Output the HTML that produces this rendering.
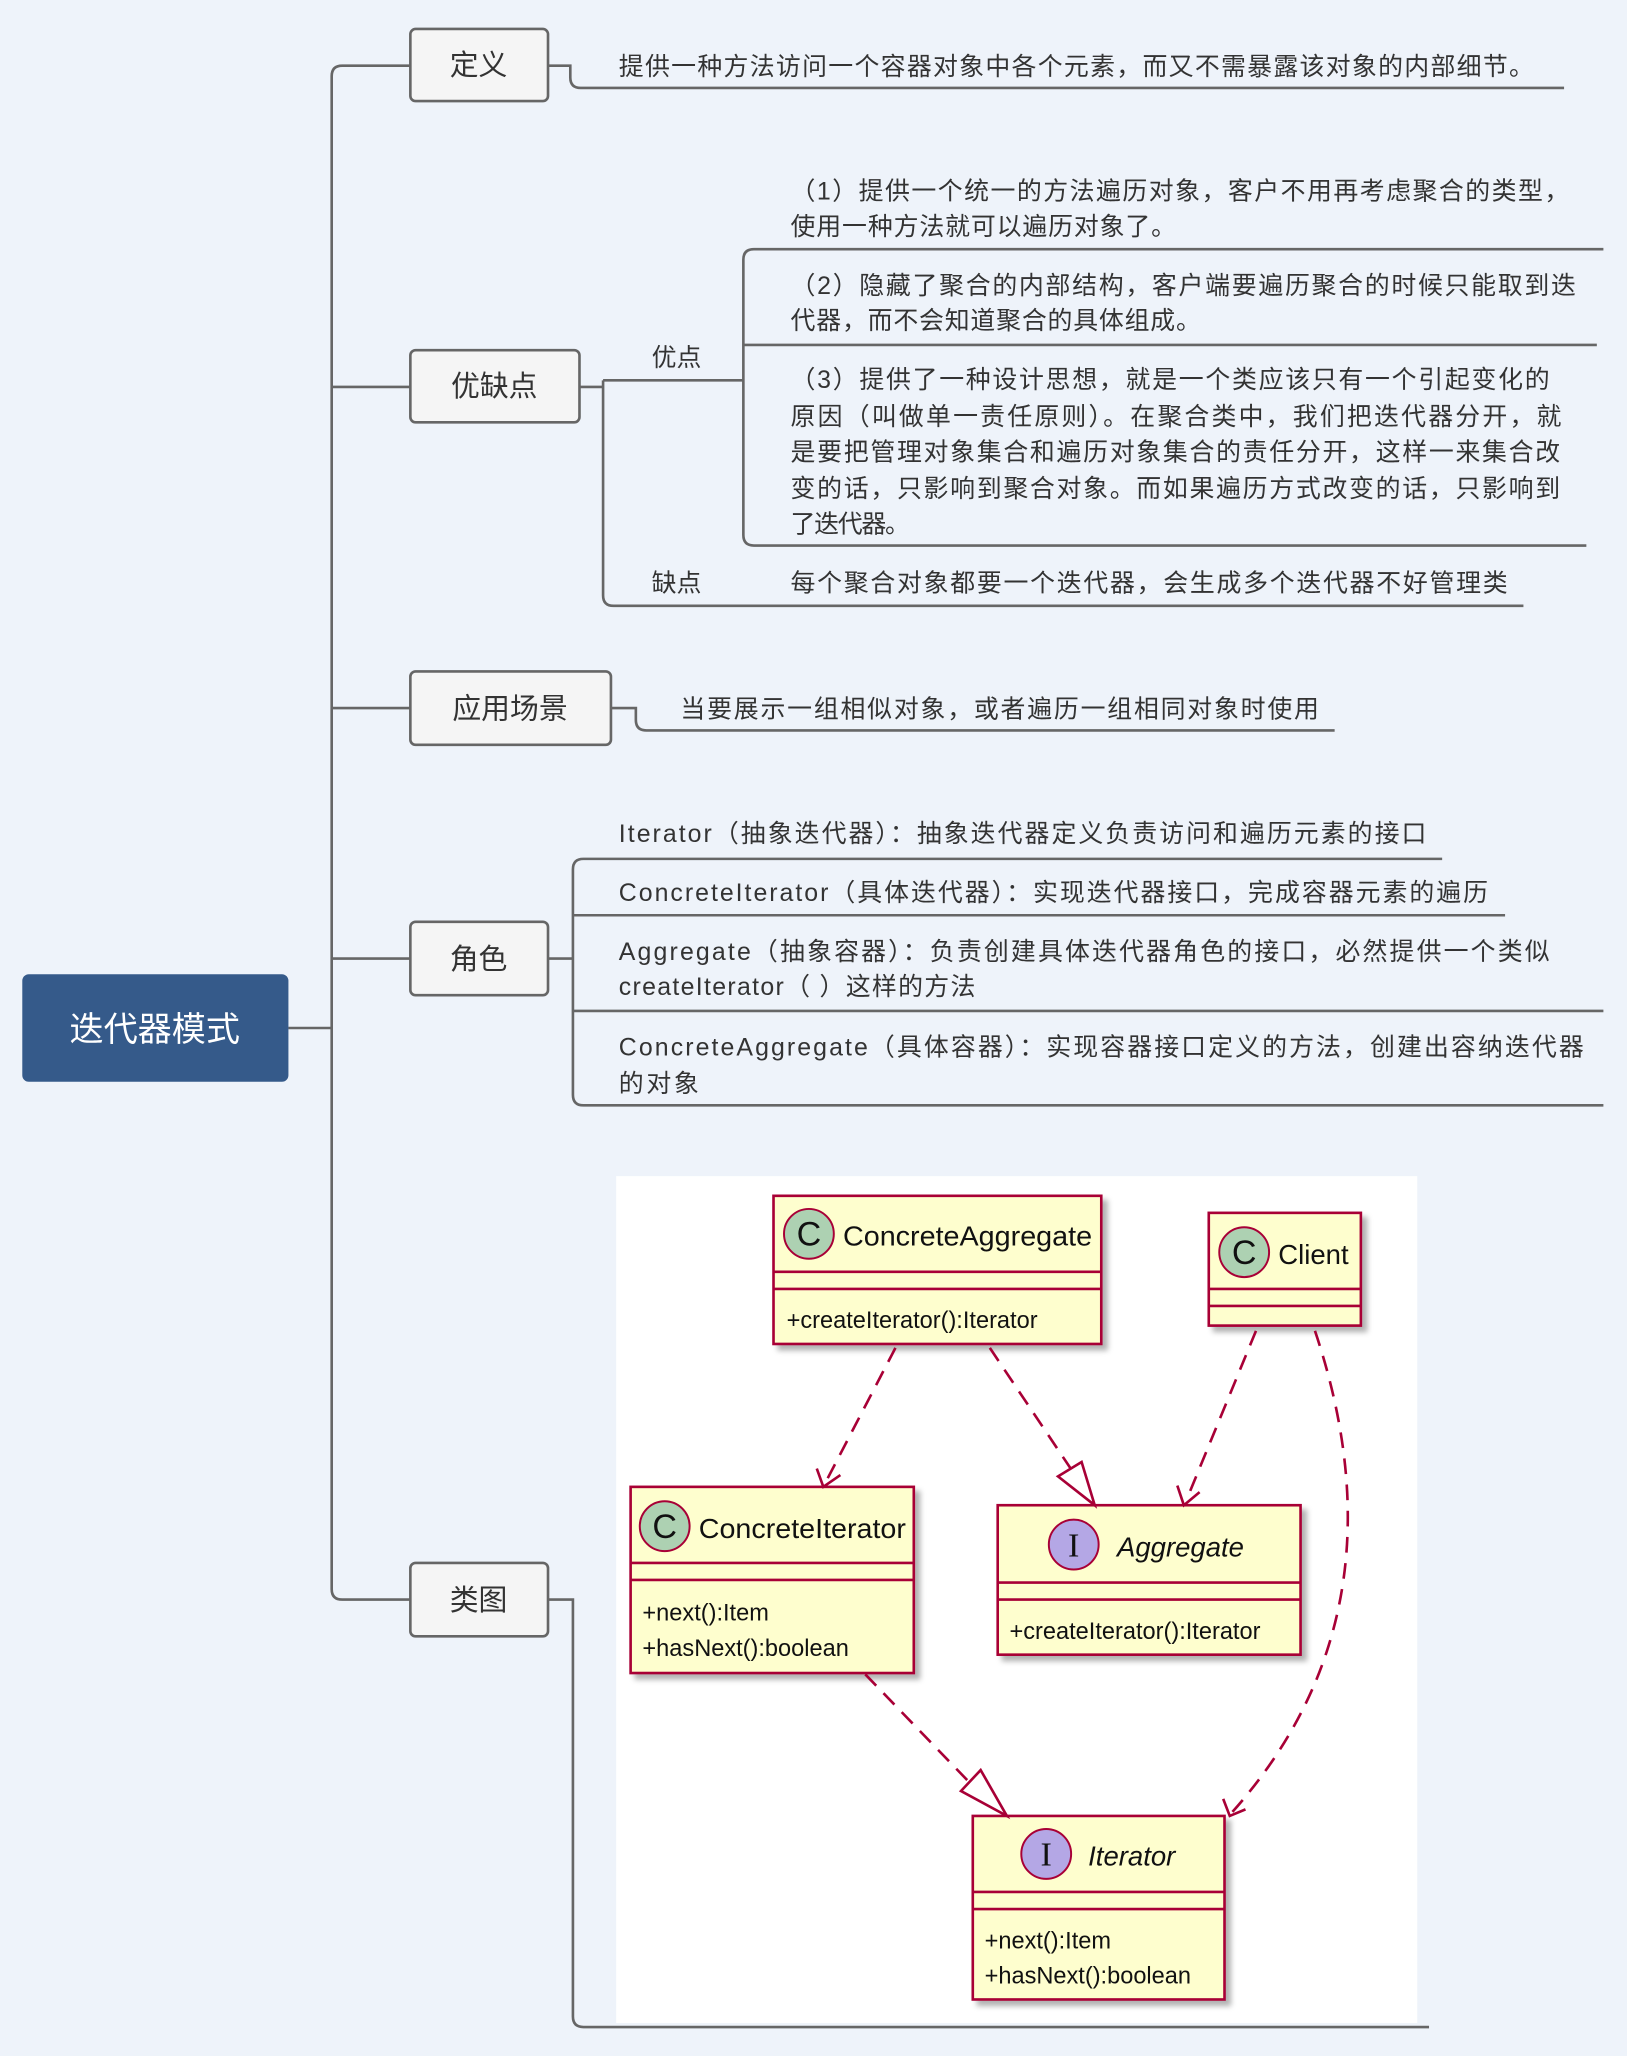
<!DOCTYPE html>
<html><head><meta charset="utf-8"><style>
html,body{margin:0;padding:0;background:#eef3fa;}
svg{display:block;}
text{font-family:"Liberation Sans","Noto Sans CJK SC",sans-serif;fill:#333;}
.t{font-size:19px;}
.b{font-size:22px;}
.u{font-family:"Liberation Sans",sans-serif;fill:#111;}
</style></head><body>
<svg width="1627" height="2056" viewBox="0 0 1241 1568" xmlns="http://www.w3.org/2000/svg">
<defs>
<filter id="sh" x="-10%" y="-10%" width="130%" height="130%"><feDropShadow dx="4" dy="4" stdDeviation="2" flood-color="#000" flood-opacity="0.3"/></filter>
</defs>
<rect width="1241" height="1568" fill="#eef3fa"/>
<g fill="none" stroke="#666" stroke-width="2">
<path d="M220 784 H253"/>
<path d="M313 50 H261 Q253 50 253 58 V1212 Q253 1220 261 1220 H313"/>
<path d="M253 295 H313 M253 540 H313 M253 731 H313"/>
<path d="M418 50 H435 V59 Q435 67 443 67 H1193"/>
<path d="M442 295 H460"/>
<path d="M460 290 H567"/>
<path d="M460 290 V454 Q460 462 468 462 H1162"/>
<path d="M1223 190 H575 Q567 190 567 198 V408 Q567 416 575 416 H1210"/>
<path d="M567 263 H1218"/>
<path d="M466 540 H485 V549 Q485 557 493 557 H1018"/>
<path d="M418 731 H437"/>
<path d="M1100 655 H445 Q437 655 437 663 V835 Q437 843 445 843 H1223"/>
<path d="M437 698 H1148 M437 771 H1223"/>
<path d="M418 1220 H437 V1538 Q437 1546 445 1546 H1090"/>
</g>
<rect x="17" y="743" width="203" height="82" rx="5" fill="#355a8a"/>
<text x="118" y="794" text-anchor="middle" style="font-size:26px;fill:#fff">迭代器模式</text>
<g fill="#f5f5f5" stroke="#666" stroke-width="2">
<rect x="313" y="22" width="105" height="55" rx="4"/>
<rect x="313" y="267" width="129" height="55" rx="4"/>
<rect x="313" y="512" width="153" height="56" rx="4"/>
<rect x="313" y="703" width="105" height="56" rx="4"/>
<rect x="313" y="1192" width="105" height="56" rx="4"/>
</g>
<text class="b" x="365" y="57" text-anchor="middle">定义</text>
<text class="b" x="377" y="302" text-anchor="middle">优缺点</text>
<text class="b" x="389" y="548" text-anchor="middle">应用场景</text>
<text class="b" x="365" y="739" text-anchor="middle">角色</text>
<text class="b" x="365" y="1228" text-anchor="middle">类图</text>
<text class="t" x="472" y="57" textLength="698" lengthAdjust="spacing">提供一种方法访问一个容器对象中各个元素，而又不需暴露该对象的内部细节。</text>
<text class="t" x="497" y="279">优点</text>
<text class="t" x="603" y="152" textLength="594" lengthAdjust="spacing">（1）提供一个统一的方法遍历对象，客户不用再考虑聚合的类型，</text>
<text class="t" x="603" y="179" textLength="294" lengthAdjust="spacing">使用一种方法就可以遍历对象了。</text>
<text class="t" x="603" y="224" textLength="599" lengthAdjust="spacing">（2）隐藏了聚合的内部结构，客户端要遍历聚合的时候只能取到迭</text>
<text class="t" x="603" y="251" textLength="313" lengthAdjust="spacing">代器，而不会知道聚合的具体组成。</text>
<text class="t" x="603" y="296" textLength="579" lengthAdjust="spacing">（3）提供了一种设计思想，就是一个类应该只有一个引起变化的</text>
<text class="t" x="603" y="324" textLength="588" lengthAdjust="spacing">原因（叫做单一责任原则）。在聚合类中，我们把迭代器分开，就</text>
<text class="t" x="603" y="351" textLength="587" lengthAdjust="spacing">是要把管理对象集合和遍历对象集合的责任分开，这样一来集合改</text>
<text class="t" x="603" y="379" textLength="587" lengthAdjust="spacing">变的话，只影响到聚合对象。而如果遍历方式改变的话，只影响到</text>
<text class="t" x="603" y="406" textLength="91" lengthAdjust="spacing">了迭代器。</text>
<text class="t" x="497" y="451">缺点</text>
<text class="t" x="603" y="451" textLength="547" lengthAdjust="spacing">每个聚合对象都要一个迭代器，会生成多个迭代器不好管理类</text>
<text class="t" x="519" y="547" textLength="487" lengthAdjust="spacing">当要展示一组相似对象，或者遍历一组相同对象时使用</text>
<text class="t" x="472" y="642" textLength="616" lengthAdjust="spacing">Iterator（抽象迭代器）：抽象迭代器定义负责访问和遍历元素的接口</text>
<text class="t" x="472" y="687" textLength="663" lengthAdjust="spacing">ConcreteIterator（具体迭代器）：实现迭代器接口，完成容器元素的遍历</text>
<text class="t" x="472" y="732" textLength="710" lengthAdjust="spacing">Aggregate（抽象容器）：负责创建具体迭代器角色的接口，必然提供一个类似</text>
<text class="t" x="472" y="759" textLength="272" lengthAdjust="spacing">createIterator（ ）这样的方法</text>
<text class="t" x="472" y="805" textLength="736" lengthAdjust="spacing">ConcreteAggregate（具体容器）：实现容器接口定义的方法，创建出容纳迭代器</text>
<text class="t" x="472" y="833" textLength="61" lengthAdjust="spacing">的对象</text>
<rect x="470" y="897" width="611" height="646" fill="#fff"/>
<g stroke="#a80036" stroke-width="2" fill="#fefece">
<rect x="590" y="912" width="250" height="113" filter="url(#sh)"/>
<rect x="922" y="925" width="116" height="86" filter="url(#sh)"/>
<rect x="481" y="1134" width="216" height="142" filter="url(#sh)"/>
<rect x="761" y="1148" width="231" height="114" filter="url(#sh)"/>
<rect x="742" y="1385" width="192" height="140" filter="url(#sh)"/>
<path d="M590 970 H840 M590 983 H840 M922 983 H1038 M922 996 H1038 M481 1192 H697 M481 1205 H697 M761 1207 H992 M761 1220 H992 M742 1443 H934 M742 1456 H934" fill="none"/>
</g>
<g stroke="#a80036" stroke-width="1.5">
<circle cx="617" cy="941" r="19" fill="#add1b2"/>
<circle cx="949" cy="955" r="19" fill="#add1b2"/>
<circle cx="507" cy="1164" r="19" fill="#add1b2"/>
<circle cx="819" cy="1178" r="19" fill="#b4a7e5"/>
<circle cx="798" cy="1414" r="19" fill="#b4a7e5"/>
</g>
<g class="u" style="font-size:26px" text-anchor="middle">
<text class="u" x="617" y="950">C</text><text class="u" x="949" y="964">C</text><text class="u" x="507" y="1173">C</text>
<text class="u" x="819" y="1187" style="font-family:'Liberation Serif',serif">I</text><text class="u" x="798" y="1423" style="font-family:'Liberation Serif',serif">I</text>
</g>
<g class="u" style="font-size:21px">
<text class="u" x="643" y="950" textLength="190" lengthAdjust="spacingAndGlyphs">ConcreteAggregate</text>
<text class="u" x="975" y="964">Client</text>
<text class="u" x="533" y="1173" textLength="158" lengthAdjust="spacingAndGlyphs">ConcreteIterator</text>
<text class="u" x="852" y="1187" style="font-style:italic">Aggregate</text>
<text class="u" x="830" y="1423" style="font-style:italic">Iterator</text>
</g>
<g class="u" style="font-size:18px">
<text class="u" x="600" y="1013">+createIterator():Iterator</text>
<text class="u" x="490" y="1236">+next():Item</text>
<text class="u" x="490" y="1263">+hasNext():boolean</text>
<text class="u" x="770" y="1250">+createIterator():Iterator</text>
<text class="u" x="751" y="1486">+next():Item</text>
<text class="u" x="751" y="1513">+hasNext():boolean</text>
</g>
<g fill="none" stroke="#a80036" stroke-width="2" stroke-dasharray="12,8">
<path d="M683 1028 L630 1130"/>
<path d="M755 1028 L820 1125"/>
<path d="M958 1015 L905 1144"/>
<path d="M1003 1015 Q1075 1230 940 1382"/>
<path d="M660 1277 L740 1360"/>
</g>
<g fill="none" stroke="#a80036" stroke-width="2">
<path d="M623 1120 L628 1134 L641 1125"/>
<path d="M898 1133 L903 1148 L915 1138"/>
<path d="M933 1372 L938 1385 L950 1380"/>
</g>
<g fill="#fff" stroke="#a80036" stroke-width="2">
<path d="M835 1148 L825 1115 L807 1126 Z"/>
<path d="M768 1385 L748 1350 L733 1366 Z"/>
</g>
</svg>
</body></html>
